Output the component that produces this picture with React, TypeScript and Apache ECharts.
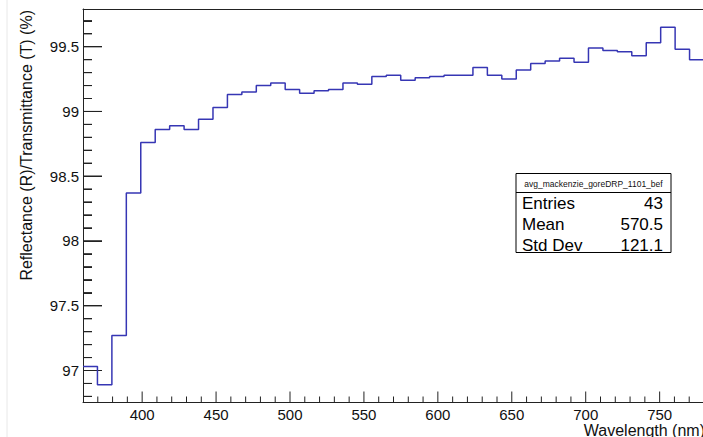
import React, { useEffect, useRef } from "react";
import * as echarts from "echarts";

// Histogram binning (ROOT TH1: 43 bins between 360 and 780 nm)
const X_MIN = 360;
const X_MAX = 780;
const BIN_COUNT = 43;
const Y_MIN = 96.753;
const Y_MAX = 99.791;

// Bin contents (percent)
const binValues = [
  97.03, 96.89, 97.27, 98.37, 98.76, 98.86, 98.89, 98.86, 98.94, 99.03,
  99.13, 99.15, 99.2, 99.22, 99.17, 99.14, 99.16, 99.17, 99.22, 99.21,
  99.27, 99.28, 99.24, 99.26, 99.27, 99.28, 99.28, 99.34, 99.28, 99.25,
  99.32, 99.37, 99.39, 99.41, 99.38, 99.49, 99.47, 99.46, 99.43, 99.53,
  99.65, 99.48, 99.4,
];

const xMajorTicks = [400, 450, 500, 550, 600, 650, 700, 750];
const xMinorTicks = [370, 380, 390, 410, 420, 430, 440, 460, 470, 480, 490, 510, 520, 530, 540, 560, 570, 580, 590, 610, 620, 630, 640, 660, 670, 680, 690, 710, 720, 730, 740, 760, 770];
const yMajorTicks = [97, 97.5, 98, 98.5, 99, 99.5];
const yMinorTicks = [96.8, 96.9, 97.1, 97.2, 97.3, 97.4, 97.6, 97.7, 97.8, 97.9, 98.1, 98.2, 98.3, 98.4, 98.6, 98.7, 98.8, 98.9, 99.1, 99.2, 99.3, 99.4, 99.6, 99.7];

const statsTitle = "avg_mackenzie_goreDRP_1101_bef";
const statsRows = [
  ["Entries", "43"],
  ["Mean", "570.5"],
  ["Std Dev", "121.1"],
];

const xTitle = "Wavelength (nm)";
const yTitle = "Reflectance (R)/Transmittance (T) (%)";

const FONT = "'Liberation Sans', Arial, Helvetica, sans-serif";
const AXIS_COLOR = "#222";

// chart frame (px)
const CHART_W = 730;
const CHART_H = 437;
const GRID = { left: 83, top: 9, right: 26, bottom: 34.5 };

// tick lengths (px)
const X_MAJOR_LEN = 11;
const X_MINOR_LEN = 6;
const Y_MAJOR_LEN = 19;
const Y_MINOR_LEN = 9;

export default function App() {
  const ref = useRef<HTMLDivElement>(null);

  useEffect(() => {
    if (!ref.current) return;
    const chart = echarts.init(ref.current, undefined, { renderer: "svg" });

    const binWidth = (X_MAX - X_MIN) / BIN_COUNT;
    const stepData: number[][] = binValues.map((v, i) => [X_MIN + i * binWidth, v]);
    stepData.push([X_MAX, binValues[binValues.length - 1]]);

    // tick marks drawn through the axes' scales
    const plotW = CHART_W - GRID.left - GRID.right;
    const plotH = CHART_H - GRID.top - GRID.bottom;
    const xPerPx = (X_MAX - X_MIN) / plotW;
    const yPerPx = (Y_MAX - Y_MIN) / plotH;
    const tickSeries = (data: number[][]) => ({
      type: "line",
      xAxisIndex: 0,
      yAxisIndex: 0,
      data,
      symbol: "none",
      showSymbol: false,
      silent: true,
      clip: false,
      z: 4,
      lineStyle: { color: AXIS_COLOR, width: 1 },
      emphasis: { disabled: true },
      tooltip: { show: false },
    });
    const xTicks = [
      ...xMajorTicks.map((v) => tickSeries([[v, Y_MIN], [v, Y_MIN + X_MAJOR_LEN * yPerPx]])),
      ...xMinorTicks.map((v) => tickSeries([[v, Y_MIN], [v, Y_MIN + X_MINOR_LEN * yPerPx]])),
    ];
    const yTickPairs = [
      ...yMajorTicks.map((v) => [v, Y_MAJOR_LEN]),
      ...yMinorTicks.map((v) => [v, Y_MINOR_LEN]),
    ];
    const yTicks = yTickPairs.map(([v, len]) =>
      tickSeries([[X_MIN, v], [X_MIN + len * xPerPx, v], [X_MIN, v]])
    );
    const yTickMarkLines = yTickPairs.map(([v, len]) => [
      { coord: [X_MIN, v] },
      { coord: [X_MIN + len * xPerPx, v] },
    ]);

    const rows = statsRows
      .map((r, i) => [
        {
          type: "text",
          x: 522,
          y: 203 + i * 21.3,
          style: { text: r[0], font: `17px ${FONT}`, fill: "#000", textAlign: "left", textVerticalAlign: "middle" },
        },
        {
          type: "text",
          x: 663,
          y: 203 + i * 21.3,
          style: { text: r[1], font: `17px ${FONT}`, fill: "#000", textAlign: "right", textVerticalAlign: "middle" },
        },
      ])
      .flat();

    chart.setOption({
      animation: false,
      backgroundColor: "#fff",
      grid: { ...GRID, containLabel: false },
      xAxis: [
        {
          type: "value",
          min: X_MIN,
          max: X_MAX,
          position: "bottom",
          splitLine: { show: false },
          axisLine: { show: true, lineStyle: { color: AXIS_COLOR, width: 1 } },
          axisTick: { show: false },
          axisLabel: { show: true, customValues: xMajorTicks, margin: 4, fontSize: 15, lineHeight: 15, fontFamily: FONT, color: "#111" },
        },
        {
          type: "value",
          min: X_MIN,
          max: X_MAX,
          position: "top",
          offset: 0,
          splitLine: { show: false },
          axisLine: { show: true, lineStyle: { color: AXIS_COLOR, width: 1 } },
          axisTick: { show: false },
          axisLabel: { show: false },
        },
      ],
      yAxis: [
        {
          type: "value",
          min: Y_MIN,
          max: Y_MAX,
          position: "left",
          splitLine: { show: false },
          axisLine: { show: true, lineStyle: { color: AXIS_COLOR, width: 1 } },
          axisTick: { show: false },
          axisLabel: { show: true, customValues: yMajorTicks, margin: 4, fontSize: 15, fontFamily: FONT, color: "#111" },
        },
      ],
      series: [
        {
          type: "line",
          xAxisIndex: 0,
          yAxisIndex: 0,
          step: "end",
          data: stepData,
          showSymbol: false,
          symbol: "none",
          lineStyle: { color: "#3636b4", width: 1.5 },
          z: 5,
          markLine: {
            silent: true,
            animation: false,
            symbol: ["none", "none"],
            label: { show: false },
            emphasis: { disabled: true },
            lineStyle: { color: AXIS_COLOR, width: 1, type: "solid" },
            data: yTickMarkLines,
          },
        },
        ...xTicks,
        ...yTicks,
      ],
      graphic: [
        {
          type: "line",
          shape: { x1: 7, y1: 0, x2: 7, y2: 437 },
          style: { stroke: "#e8e8e8", lineWidth: 1 },
        },
        {
          type: "text",
          x: 26,
          y: 10,
          rotation: Math.PI / 2,
          style: { text: yTitle, font: `16px ${FONT}`, fill: "#111", textAlign: "right", textVerticalAlign: "middle" },
        },
        {
          type: "text",
          x: 705,
          y: 430,
          style: { text: xTitle, font: `16px ${FONT}`, lineHeight: 16, fill: "#111", textAlign: "right", textVerticalAlign: "middle" },
        },
        {
          type: "group",
          z: 100,
          children: [
            {
              type: "rect",
              shape: { x: 516, y: 173.5, width: 155, height: 79 },
              style: { fill: "#fff", stroke: "#000", lineWidth: 1 },
            },
            {
              type: "line",
              shape: { x1: 516, y1: 192.5, x2: 671, y2: 192.5 },
              style: { stroke: "#000", lineWidth: 1 },
            },
            {
              type: "text",
              x: 593.5,
              y: 183.5,
              style: { text: statsTitle, font: `8.5px ${FONT}`, fill: "#111", textAlign: "center", textVerticalAlign: "middle" },
            },
            ...rows,
          ],
        },
      ],
    });

    return () => chart.dispose();
  }, []);

  return (
    <div style={{ position: "absolute", left: 0, top: 0, width: 703, height: 437, overflow: "hidden", background: "#fff" }}>
      <div ref={ref} style={{ width: CHART_W, height: CHART_H }} />
    </div>
  );
}
